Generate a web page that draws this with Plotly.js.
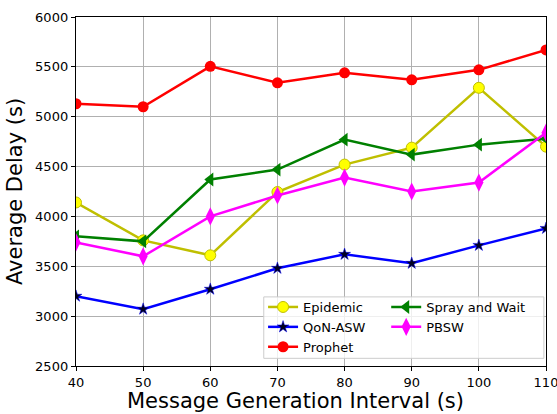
<!DOCTYPE html>
<html>
<head>
<meta charset="utf-8">
<script src="https://cdn.plot.ly/plotly-3.0.1.min.js"></script>
<style>
  html, body { margin: 0; padding: 0; background: #fff; }
  #chart { width: 557px; height: 414px; }
</style>
</head>
<body>
<div id="chart"></div>
<script>
// Message generation interval (s)
const intervals = [40, 50, 60, 70, 80, 90, 100, 110];

// Average delay (s) per routing protocol
const epidemic     = [4140, 3760, 3610, 4245, 4520, 4690, 5290, 4700];
const qonAsw       = [3200, 3070, 3270, 3480, 3620, 3530, 3710, 3880];
const prophet      = [5130, 5100, 5505, 5340, 5440, 5370, 5470, 5670];
const sprayAndWait = [3800, 3750, 4370, 4470, 4770, 4620, 4720, 4780];
const pbsw         = [3740, 3600, 4000, 4210, 4390, 4250, 4340, 4840];

const yTicks = [2500, 3000, 3500, 4000, 4500, 5000, 5500, 6000];
const xTicks = [40, 50, 60, 70, 80, 90, 100, 110];

const FONT = 'DejaVu Sans, sans-serif';

function series(name, y, lineColor, marker, legend) {
  return {
    type: 'scatter', mode: 'lines+markers', name: name,
    x: intervals, y: y, legend: legend,
    line: { color: lineColor, width: 2.5 },
    marker: marker,
    cliponaxis: true
  };
}

const traces = [
  series('Epidemic', epidemic, '#bfbf00',
    { symbol: 'circle', size: 11, color: '#ffff00', line: { color: '#bfbf00', width: 1 } }, 'legend'),
  series('QoN-ASW', qonAsw, '#0000ff',
    { symbol: 'star', size: 9, color: '#000022', line: { color: '#0000ff', width: 0.5 } }, 'legend'),
  series('Prophet', prophet, '#ff0000',
    { symbol: 'circle', size: 11, color: '#ff0000', line: { width: 0 } }, 'legend'),
  series('Spray and Wait', sprayAndWait, '#008000',
    { symbol: 'triangle-left', size: 12, color: '#008000', line: { width: 0 } }, 'legend2'),
  series('PBSW', pbsw, '#ff00ff',
    { symbol: 'diamond-tall', size: 13, color: '#ff00ff', line: { width: 0 } }, 'legend2')
];

const axisCommon = {
  showline: true, linecolor: '#000', linewidth: 1.2, mirror: true,
  ticks: 'outside', ticklen: 4, tickcolor: '#000', tickwidth: 1,
  showgrid: true, gridcolor: '#b0b0b0', gridwidth: 1,
  zeroline: false, ticklabeloverflow: 'allow',
  tickfont: { family: FONT, size: 13, color: '#000' }
};

const legendCommon = {
  bgcolor: 'rgba(0,0,0,0)', borderwidth: 0,
  font: { family: FONT, size: 13, color: '#000' },
  xref: 'paper', yref: 'paper', xanchor: 'left', yanchor: 'top',
  tracegroupgap: 0, itemwidth: 30
};

const layout = {
  width: 557, height: 414,
  paper_bgcolor: '#fff', plot_bgcolor: '#fff',
  margin: { l: 76, r: 11, t: 17, b: 48 },
  xaxis: Object.assign({}, axisCommon, {
    range: [40, 110], tickvals: xTicks, ticktext: xTicks.map(String)
  }),
  yaxis: Object.assign({}, axisCommon, {
    range: [2500, 6000], tickvals: yTicks, ticktext: yTicks.map(String),
    title: { text: 'Average Delay (s)', font: { family: FONT, size: 21, color: '#000' }, standoff: 6 }
  }),
  // x-axis title placed as an annotation so it can sit slightly left of the plot centre
  annotations: [{
    text: 'Message Generation Interval (s)', showarrow: false,
    xref: 'paper', yref: 'paper', x: 0.467, y: -0.101,
    xanchor: 'center', yanchor: 'middle',
    font: { family: FONT, size: 21, color: '#000' }
  }],
  legend: Object.assign({}, legendCommon, { x: 0.398, y: 0.212 }),
  legend2: Object.assign({}, legendCommon, { x: 0.66, y: 0.212 }),
  shapes: [{
    type: 'rect', xref: 'paper', yref: 'paper', layer: 'above',
    x0: 0.3995, x1: 0.9955, y0: 0.022, y1: 0.198,
    fillcolor: 'rgba(255,255,255,0.8)', line: { color: '#cccccc', width: 1 }
  }],
  showlegend: true
};

Plotly.newPlot('chart', traces, layout, { displayModeBar: false, staticPlot: true });
</script>
</body>
</html>
